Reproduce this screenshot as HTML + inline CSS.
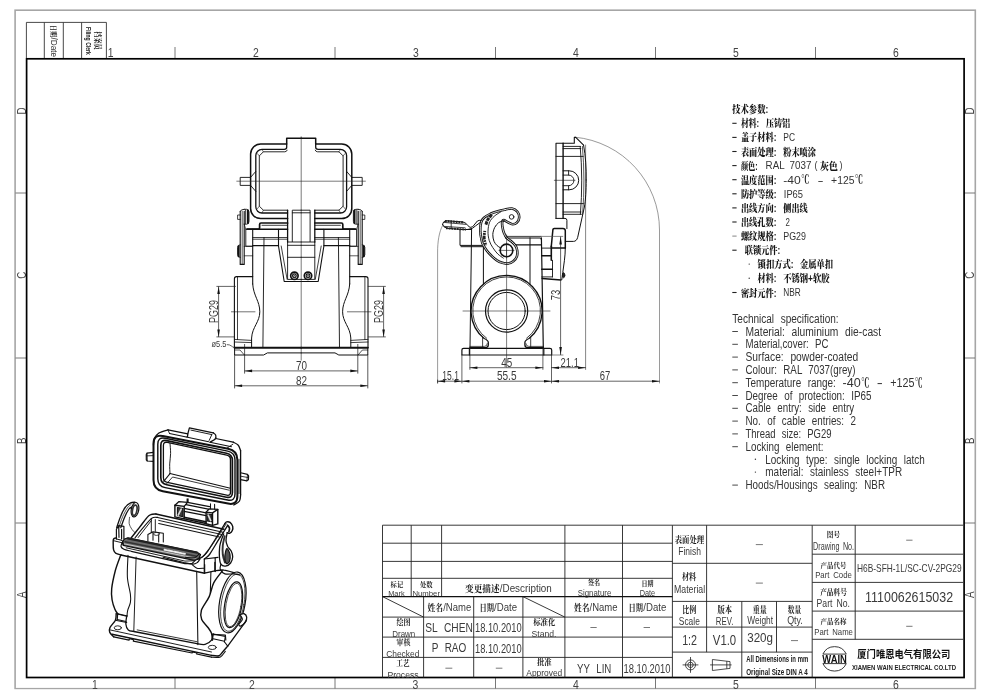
<!DOCTYPE html>
<html lang="zh"><head><meta charset="utf-8"><title>H6B-SFH-1L/SC-CV-2PG29</title>
<style>
html,body{margin:0;padding:0;background:#fff;}
body{width:990px;height:700px;overflow:hidden;font-family:"Liberation Sans","Noto Sans CJK SC",sans-serif;}
svg{display:block;}
#sheet{width:990px;height:700px;will-change:transform;}
svg text{white-space:pre;}
</style></head><body>
<div id="sheet"><svg width="990" height="700" viewBox="0 0 990 700" font-family='"Liberation Sans","Noto Sans CJK SC",sans-serif'>
<rect width="990" height="700" fill="#fff"/>
<!-- frame -->
<g fill="none" stroke="#a6a6a6" stroke-width="1.6">
<rect x="15.1" y="10.2" width="960.2" height="678.5"/>
</g>
<g stroke="#555" stroke-width="0.8">
<line x1="175" y1="47" x2="175" y2="58.5"/>
<line x1="175" y1="678" x2="175" y2="688.5"/>
<line x1="335" y1="47" x2="335" y2="58.5"/>
<line x1="335" y1="678" x2="335" y2="688.5"/>
<line x1="495.5" y1="47" x2="495.5" y2="58.5"/>
<line x1="495.5" y1="678" x2="495.5" y2="688.5"/>
<line x1="655.5" y1="47" x2="655.5" y2="58.5"/>
<line x1="655.5" y1="678" x2="655.5" y2="688.5"/>
<line x1="815.5" y1="47" x2="815.5" y2="58.5"/>
<line x1="815.5" y1="678" x2="815.5" y2="688.5"/>
<line x1="15.5" y1="193" x2="26.5" y2="193"/>
<line x1="964" y1="193" x2="975" y2="193"/>
<line x1="15.5" y1="358" x2="26.5" y2="358"/>
<line x1="964" y1="358" x2="975" y2="358"/>
<line x1="15.5" y1="523" x2="26.5" y2="523"/>
<line x1="964" y1="523" x2="975" y2="523"/>
</g>
<g font-family='"Liberation Sans", "Noto Sans CJK SC", sans-serif' font-size='13' fill='#444' text-anchor='middle'>
<text x="110.6" y="56.8" transform="translate(110.6 0) scale(0.8 1) translate(-110.6 0)">1</text>
<text x="256" y="56.8" transform="translate(256 0) scale(0.8 1) translate(-256 0)">2</text>
<text x="416" y="56.8" transform="translate(416 0) scale(0.8 1) translate(-416 0)">3</text>
<text x="576" y="56.8" transform="translate(576 0) scale(0.8 1) translate(-576 0)">4</text>
<text x="736" y="56.8" transform="translate(736 0) scale(0.8 1) translate(-736 0)">5</text>
<text x="896" y="56.8" transform="translate(896 0) scale(0.8 1) translate(-896 0)">6</text>
<text x="95" y="688.6" transform="translate(95 0) scale(0.8 1) translate(-95 0)">1</text>
<text x="252" y="688.6" transform="translate(252 0) scale(0.8 1) translate(-252 0)">2</text>
<text x="415.5" y="688.6" transform="translate(415.5 0) scale(0.8 1) translate(-415.5 0)">3</text>
<text x="576" y="688.6" transform="translate(576 0) scale(0.8 1) translate(-576 0)">4</text>
<text x="736" y="688.6" transform="translate(736 0) scale(0.8 1) translate(-736 0)">5</text>
<text x="896" y="688.6" transform="translate(896 0) scale(0.8 1) translate(-896 0)">6</text>
<text x="0" y="0" transform="translate(25.6 111) rotate(-90) scale(0.75 1)">D</text>
<text x="0" y="0" transform="translate(974.3 111) rotate(-90) scale(0.75 1)">D</text>
<text x="0" y="0" transform="translate(25.6 275.3) rotate(-90) scale(0.75 1)">C</text>
<text x="0" y="0" transform="translate(974.3 275.3) rotate(-90) scale(0.75 1)">C</text>
<text x="0" y="0" transform="translate(25.6 440.8) rotate(-90) scale(0.75 1)">B</text>
<text x="0" y="0" transform="translate(974.3 440.8) rotate(-90) scale(0.75 1)">B</text>
<text x="0" y="0" transform="translate(25.6 594.8) rotate(-90) scale(0.75 1)">A</text>
<text x="0" y="0" transform="translate(974.3 594.8) rotate(-90) scale(0.75 1)">A</text>
</g>
<rect x="0" y="689.4" width="990" height="11" fill="#fff"/>
<rect x="26.6" y="58.8" width="937.5" height="618.7" fill="none" stroke="#000" stroke-width="1.7"/>
<g stroke="#333" stroke-width="0.9" fill="none">
<path d="M26.4 58V22.4H106.4V58M44.3 22.4V58M63.3 22.4V58M81.6 22.4V58"/>
</g>
<text font-family='"Liberation Sans", "Noto Serif CJK SC", serif' font-size='7.4' font-weight='bold' fill='#222' transform='translate(50.9 24.8) rotate(90)' textLength='12.6' lengthAdjust='spacingAndGlyphs'>日期</text>
<text font-family='"Liberation Sans", "Noto Sans CJK SC", sans-serif' font-size='8.6' fill='#333' transform='translate(50.7 37.6) rotate(90)' textLength='19.4' lengthAdjust='spacingAndGlyphs'>/Date</text>
<text font-family='"Liberation Sans", "Noto Serif CJK SC", serif' font-size='7.5' font-weight='bold' fill='#222' transform='translate(95.2 31.2) rotate(90)' textLength='18.6' lengthAdjust='spacingAndGlyphs'>档案员</text>
<text font-family='"Liberation Sans", "Noto Sans CJK SC", sans-serif' font-size='7' font-weight='bold' fill='#222' transform='translate(86.3 27.1) rotate(90)' textLength='27.8' lengthAdjust='spacingAndGlyphs'>Filing Clerk</text>
<!-- title -->
<g stroke="#222" stroke-width="0.9" fill="none">
<line x1="382.5" y1="525.2" x2="672.4" y2="525.2"/>
<line x1="382.5" y1="543.2" x2="672.4" y2="543.2"/>
<line x1="382.5" y1="561.4" x2="672.4" y2="561.4"/>
<line x1="382.5" y1="578.3" x2="672.4" y2="578.3"/>
<line x1="382.5" y1="617.1" x2="672.4" y2="617.1"/>
<line x1="382.5" y1="637.1" x2="672.4" y2="637.1"/>
<line x1="382.5" y1="657.4" x2="672.4" y2="657.4"/>
<line x1="382.5" y1="525.2" x2="382.5" y2="677.5"/>
<line x1="411.2" y1="525.2" x2="411.2" y2="596.6"/>
<line x1="441.6" y1="525.2" x2="441.6" y2="596.6"/>
<line x1="564.9" y1="525.2" x2="564.9" y2="677.5"/>
<line x1="622.5" y1="525.2" x2="622.5" y2="677.5"/>
<line x1="672.4" y1="525.2" x2="672.4" y2="677.5"/>
<line x1="423.6" y1="596.6" x2="423.6" y2="677.5"/>
<line x1="473.7" y1="596.6" x2="473.7" y2="677.5"/>
<line x1="522.9" y1="596.6" x2="522.9" y2="677.5"/>
<line x1="382.5" y1="596.6" x2="423.6" y2="617.1"/>
<line x1="522.9" y1="596.6" x2="564.9" y2="617.1"/>
<line x1="672.4" y1="525.2" x2="812.2" y2="525.2"/>
<line x1="672.4" y1="563.3" x2="812.2" y2="563.3"/>
<line x1="672.4" y1="601.4" x2="812.2" y2="601.4"/>
<line x1="672.4" y1="627.1" x2="812.2" y2="627.1"/>
<line x1="672.4" y1="652.1" x2="812.2" y2="652.1"/>
<line x1="706.6" y1="525.2" x2="706.6" y2="652.1"/>
<line x1="741.8" y1="601.4" x2="741.8" y2="677.5"/>
<line x1="776.5" y1="601.4" x2="776.5" y2="652.1"/>
<line x1="812.2" y1="525.2" x2="812.2" y2="677.5"/>
<line x1="812.2" y1="525.2" x2="963.2" y2="525.2"/>
<line x1="812.2" y1="554.2" x2="963.2" y2="554.2"/>
<line x1="812.2" y1="582.4" x2="963.2" y2="582.4"/>
<line x1="812.2" y1="611.1" x2="963.2" y2="611.1"/>
<line x1="812.2" y1="639.3" x2="963.2" y2="639.3"/>
<line x1="855.2" y1="525.2" x2="855.2" y2="639.3"/>
</g>
<line x1="382.5" y1="596.6" x2="672.4" y2="596.6" stroke-width="1.3" stroke="#111"/>
<text x="396.9" y="587" font-size="6.8" text-anchor="middle" textLength="12.6" lengthAdjust="spacingAndGlyphs" font-weight="bold" font-family='"Liberation Sans", "Noto Serif CJK SC", serif' fill="#1a1a1a">标记</text>
<text x="396.4" y="596.2" font-size="8" text-anchor="middle" textLength="16.4" lengthAdjust="spacingAndGlyphs" font-family='"Liberation Sans", "Noto Sans CJK SC", sans-serif' fill="#3a3a3a">Mark</text>
<text x="426.3" y="587" font-size="6.8" text-anchor="middle" textLength="12.6" lengthAdjust="spacingAndGlyphs" font-weight="bold" font-family='"Liberation Sans", "Noto Serif CJK SC", serif' fill="#1a1a1a">处数</text>
<text x="426.2" y="596.2" font-size="8" text-anchor="middle" textLength="27.6" lengthAdjust="spacingAndGlyphs" font-family='"Liberation Sans", "Noto Sans CJK SC", sans-serif' fill="#3a3a3a">Number</text>
<text x="465.1" y="592" font-size="9.6" textLength="34.5" lengthAdjust="spacingAndGlyphs" font-weight="bold" font-family='"Liberation Sans", "Noto Serif CJK SC", serif' fill="#1a1a1a">变更描述</text>
<text x="499.8" y="592.4" font-size="11.2" textLength="52" lengthAdjust="spacingAndGlyphs" font-family='"Liberation Sans", "Noto Sans CJK SC", sans-serif' fill="#3a3a3a">/Description</text>
<text x="594" y="585.3" font-size="6.8" text-anchor="middle" textLength="12.2" lengthAdjust="spacingAndGlyphs" font-weight="bold" font-family='"Liberation Sans", "Noto Serif CJK SC", serif' fill="#1a1a1a">签名</text>
<text x="594.5" y="595.6" font-size="8.6" text-anchor="middle" textLength="33.5" lengthAdjust="spacingAndGlyphs" font-family='"Liberation Sans", "Noto Sans CJK SC", sans-serif' fill="#3a3a3a">Signature</text>
<text x="647.4" y="585.5" font-size="6.8" text-anchor="middle" textLength="12" lengthAdjust="spacingAndGlyphs" font-weight="bold" font-family='"Liberation Sans", "Noto Serif CJK SC", serif' fill="#1a1a1a">日期</text>
<text x="647.4" y="596.4" font-size="8.6" text-anchor="middle" textLength="15.5" lengthAdjust="spacingAndGlyphs" font-family='"Liberation Sans", "Noto Sans CJK SC", sans-serif' fill="#3a3a3a">Date</text>
<text x="427.6" y="610.8" font-size="8.6" textLength="15.5" lengthAdjust="spacingAndGlyphs" font-weight="bold" font-family='"Liberation Sans", "Noto Serif CJK SC", serif' fill="#1a1a1a">姓名</text>
<text x="443.2" y="610.6" font-size="10.6" textLength="28" lengthAdjust="spacingAndGlyphs" font-family='"Liberation Sans", "Noto Sans CJK SC", sans-serif' fill="#3a3a3a">/Name</text>
<text x="573.9" y="610.8" font-size="8.6" textLength="15.5" lengthAdjust="spacingAndGlyphs" font-weight="bold" font-family='"Liberation Sans", "Noto Serif CJK SC", serif' fill="#1a1a1a">姓名</text>
<text x="589.5" y="610.6" font-size="10.6" textLength="28" lengthAdjust="spacingAndGlyphs" font-family='"Liberation Sans", "Noto Sans CJK SC", sans-serif' fill="#3a3a3a">/Name</text>
<text x="479.4" y="610.8" font-size="8.6" textLength="14.5" lengthAdjust="spacingAndGlyphs" font-weight="bold" font-family='"Liberation Sans", "Noto Serif CJK SC", serif' fill="#1a1a1a">日期</text>
<text x="494.1" y="610.6" font-size="10.6" textLength="23" lengthAdjust="spacingAndGlyphs" font-family='"Liberation Sans", "Noto Sans CJK SC", sans-serif' fill="#3a3a3a">/Date</text>
<text x="628.6" y="610.8" font-size="8.6" textLength="14.5" lengthAdjust="spacingAndGlyphs" font-weight="bold" font-family='"Liberation Sans", "Noto Serif CJK SC", serif' fill="#1a1a1a">日期</text>
<text x="643.3" y="610.6" font-size="10.6" textLength="23" lengthAdjust="spacingAndGlyphs" font-family='"Liberation Sans", "Noto Sans CJK SC", sans-serif' fill="#3a3a3a">/Date</text>
<text x="403.4" y="625.4" font-size="7.6" text-anchor="middle" textLength="14" lengthAdjust="spacingAndGlyphs" font-weight="bold" font-family='"Liberation Sans", "Noto Serif CJK SC", serif' fill="#1a1a1a">绘图</text>
<text x="403.8" y="636.8" font-size="9.2" text-anchor="middle" textLength="23" lengthAdjust="spacingAndGlyphs" font-family='"Liberation Sans", "Noto Sans CJK SC", sans-serif' fill="#3a3a3a">Drawn</text>
<text x="403.4" y="645.2" font-size="7.6" text-anchor="middle" textLength="14" lengthAdjust="spacingAndGlyphs" font-weight="bold" font-family='"Liberation Sans", "Noto Serif CJK SC", serif' fill="#1a1a1a">审核</text>
<text x="402.8" y="656.8" font-size="9.2" text-anchor="middle" textLength="33.2" lengthAdjust="spacingAndGlyphs" font-family='"Liberation Sans", "Noto Sans CJK SC", sans-serif' fill="#3a3a3a">Checked</text>
<text x="403" y="665.8" font-size="7.6" text-anchor="middle" textLength="13.4" lengthAdjust="spacingAndGlyphs" font-weight="bold" font-family='"Liberation Sans", "Noto Serif CJK SC", serif' fill="#1a1a1a">工艺</text>
<text x="403" y="677.6" font-size="9.2" text-anchor="middle" textLength="31.2" lengthAdjust="spacingAndGlyphs" font-family='"Liberation Sans", "Noto Sans CJK SC", sans-serif' fill="#3a3a3a">Process</text>
<text x="449" y="632.3" font-size="13.4" text-anchor="middle" textLength="47.6" lengthAdjust="spacingAndGlyphs" font-family='"Liberation Sans", "Noto Sans CJK SC", sans-serif' fill="#3a3a3a" word-spacing="5">SL CHEN</text>
<text x="498.3" y="632" font-size="12.8" text-anchor="middle" textLength="46.6" lengthAdjust="spacingAndGlyphs" font-family='"Liberation Sans", "Noto Sans CJK SC", sans-serif' fill="#3a3a3a">18.10.2010</text>
<text x="449" y="652" font-size="13.4" text-anchor="middle" textLength="34.6" lengthAdjust="spacingAndGlyphs" font-family='"Liberation Sans", "Noto Sans CJK SC", sans-serif' fill="#3a3a3a" word-spacing="5">P RAO</text>
<text x="498.3" y="652.6" font-size="12.8" text-anchor="middle" textLength="46.6" lengthAdjust="spacingAndGlyphs" font-family='"Liberation Sans", "Noto Sans CJK SC", sans-serif' fill="#3a3a3a">18.10.2010</text>
<line x1="445.4" y1="668.2" x2="452.3" y2="668.2" stroke-width="0.8" stroke="#555"/>
<line x1="495.8" y1="668.2" x2="502.4" y2="668.2" stroke-width="0.8" stroke="#555"/>
<text x="544.3" y="625.4" font-size="7.6" text-anchor="middle" textLength="22.3" lengthAdjust="spacingAndGlyphs" font-weight="bold" font-family='"Liberation Sans", "Noto Serif CJK SC", serif' fill="#1a1a1a">标准化</text>
<text x="544" y="636.8" font-size="9.2" text-anchor="middle" textLength="24.9" lengthAdjust="spacingAndGlyphs" font-family='"Liberation Sans", "Noto Sans CJK SC", sans-serif' fill="#3a3a3a">Stand.</text>
<line x1="590.4" y1="627.5" x2="596.7" y2="627.5" stroke-width="0.8" stroke="#555"/>
<line x1="643.6" y1="627.5" x2="650" y2="627.5" stroke-width="0.8" stroke="#555"/>
<text x="544.3" y="665" font-size="7.6" text-anchor="middle" textLength="14.7" lengthAdjust="spacingAndGlyphs" font-weight="bold" font-family='"Liberation Sans", "Noto Serif CJK SC", serif' fill="#1a1a1a">批准</text>
<text x="544.3" y="676.4" font-size="9.2" text-anchor="middle" textLength="36" lengthAdjust="spacingAndGlyphs" font-family='"Liberation Sans", "Noto Sans CJK SC", sans-serif' fill="#3a3a3a">Approved</text>
<text x="594.2" y="672.8" font-size="13" text-anchor="middle" textLength="34.3" lengthAdjust="spacingAndGlyphs" font-family='"Liberation Sans", "Noto Sans CJK SC", sans-serif' fill="#3a3a3a" word-spacing="5">YY LIN</text>
<text x="647" y="672.6" font-size="12.8" text-anchor="middle" textLength="47.2" lengthAdjust="spacingAndGlyphs" font-family='"Liberation Sans", "Noto Sans CJK SC", sans-serif' fill="#3a3a3a">18.10.2010</text>
<text x="689.4" y="542.8" font-size="8.6" text-anchor="middle" textLength="29.4" lengthAdjust="spacingAndGlyphs" font-weight="bold" font-family='"Liberation Sans", "Noto Serif CJK SC", serif' fill="#1a1a1a">表面处理</text>
<text x="689.6" y="554.6" font-size="10.6" text-anchor="middle" textLength="22.7" lengthAdjust="spacingAndGlyphs" font-family='"Liberation Sans", "Noto Sans CJK SC", sans-serif' fill="#3a3a3a">Finish</text>
<line x1="755.8" y1="544.6" x2="762.9" y2="544.6" stroke-width="0.8" stroke="#555"/>
<text x="689.1" y="580.4" font-size="8.6" text-anchor="middle" textLength="14.4" lengthAdjust="spacingAndGlyphs" font-weight="bold" font-family='"Liberation Sans", "Noto Serif CJK SC", serif' fill="#1a1a1a">材料</text>
<text x="689.6" y="593.2" font-size="10.6" text-anchor="middle" textLength="31.1" lengthAdjust="spacingAndGlyphs" font-family='"Liberation Sans", "Noto Sans CJK SC", sans-serif' fill="#3a3a3a">Material</text>
<line x1="755.8" y1="583.1" x2="762.9" y2="583.1" stroke-width="0.8" stroke="#555"/>
<text x="689.2" y="612.6" font-size="8.6" text-anchor="middle" textLength="14.1" lengthAdjust="spacingAndGlyphs" font-weight="bold" font-family='"Liberation Sans", "Noto Serif CJK SC", serif' fill="#1a1a1a">比例</text>
<text x="689.3" y="624.8" font-size="10" text-anchor="middle" textLength="21" lengthAdjust="spacingAndGlyphs" font-family='"Liberation Sans", "Noto Sans CJK SC", sans-serif' fill="#3a3a3a">Scale</text>
<text x="724.7" y="612.6" font-size="8.6" text-anchor="middle" textLength="14.6" lengthAdjust="spacingAndGlyphs" font-weight="bold" font-family='"Liberation Sans", "Noto Serif CJK SC", serif' fill="#1a1a1a">版本</text>
<text x="724.6" y="624.8" font-size="10" text-anchor="middle" textLength="17.5" lengthAdjust="spacingAndGlyphs" font-family='"Liberation Sans", "Noto Sans CJK SC", sans-serif' fill="#3a3a3a">REV.</text>
<text x="759.7" y="612.6" font-size="8.6" text-anchor="middle" textLength="14.1" lengthAdjust="spacingAndGlyphs" font-weight="bold" font-family='"Liberation Sans", "Noto Serif CJK SC", serif' fill="#1a1a1a">重量</text>
<text x="760.1" y="623.7" font-size="10" text-anchor="middle" textLength="25.8" lengthAdjust="spacingAndGlyphs" font-family='"Liberation Sans", "Noto Sans CJK SC", sans-serif' fill="#3a3a3a">Weight</text>
<text x="794.5" y="612.6" font-size="8.6" text-anchor="middle" textLength="13.3" lengthAdjust="spacingAndGlyphs" font-weight="bold" font-family='"Liberation Sans", "Noto Serif CJK SC", serif' fill="#1a1a1a">数量</text>
<text x="795" y="623.7" font-size="10" text-anchor="middle" textLength="15.7" lengthAdjust="spacingAndGlyphs" font-family='"Liberation Sans", "Noto Sans CJK SC", sans-serif' fill="#3a3a3a">Qty.</text>
<text x="689.6" y="644.9" font-size="14" text-anchor="middle" textLength="14.9" lengthAdjust="spacingAndGlyphs" font-family='"Liberation Sans", "Noto Sans CJK SC", sans-serif' fill="#3a3a3a">1:2</text>
<text x="724.5" y="644.9" font-size="14" text-anchor="middle" textLength="23.4" lengthAdjust="spacingAndGlyphs" font-family='"Liberation Sans", "Noto Sans CJK SC", sans-serif' fill="#3a3a3a">V1.0</text>
<text x="760.1" y="642.1" font-size="13.2" text-anchor="middle" textLength="25.8" lengthAdjust="spacingAndGlyphs" font-family='"Liberation Sans", "Noto Sans CJK SC", sans-serif' fill="#3a3a3a">320g</text>
<line x1="791" y1="640.6" x2="798" y2="640.6" stroke-width="0.8" stroke="#555"/>
<g stroke="#222" stroke-width="0.8" fill="none">
<circle cx="690.5" cy="664.9" r="5"/><circle cx="690.5" cy="664.9" r="2.7"/>
<path d="M682.6 664.9H698.4M690.5 657V672.8"/>
<path d="M712.4 659.5L730 661.6V668.4L712.4 670.5ZM710.1 664.9H731.6M726.8 661.2V668.7"/>
</g>
<text x="746.2" y="662.3" font-size="9.8" textLength="62" lengthAdjust="spacingAndGlyphs" font-weight="bold" font-family='"Liberation Sans", "Noto Sans CJK SC", sans-serif' fill="#222">All Dimensions in mm</text>
<text x="746.2" y="674.5" font-size="9.8" textLength="61.6" lengthAdjust="spacingAndGlyphs" font-weight="bold" font-family='"Liberation Sans", "Noto Sans CJK SC", sans-serif' fill="#222">Original Size DIN A 4</text>
<text x="833.5" y="536.6" font-size="7.4" text-anchor="middle" textLength="13.3" lengthAdjust="spacingAndGlyphs" font-weight="bold" font-family='"Liberation Sans", "Noto Serif CJK SC", serif' fill="#1a1a1a">图号</text>
<text x="833.6" y="549.7" font-size="10.2" text-anchor="middle" textLength="41" lengthAdjust="spacingAndGlyphs" font-family='"Liberation Sans", "Noto Sans CJK SC", sans-serif' fill="#3a3a3a" word-spacing="2">Drawing No.</text>
<line x1="906.2" y1="540.2" x2="912.5" y2="540.2" stroke-width="0.8" stroke="#555"/>
<text x="833.5" y="567.8" font-size="7.4" text-anchor="middle" textLength="25.9" lengthAdjust="spacingAndGlyphs" font-weight="bold" font-family='"Liberation Sans", "Noto Serif CJK SC", serif' fill="#1a1a1a">产品代号</text>
<text x="833.5" y="577.8" font-size="9.6" text-anchor="middle" textLength="36.7" lengthAdjust="spacingAndGlyphs" font-family='"Liberation Sans", "Noto Sans CJK SC", sans-serif' fill="#3a3a3a" word-spacing="2">Part Code</text>
<text x="909.3" y="571.7" font-size="10.6" text-anchor="middle" textLength="104.5" lengthAdjust="spacingAndGlyphs" font-family='"Liberation Sans", "Noto Sans CJK SC", sans-serif' fill="#3a3a3a">H6B-SFH-1L/SC-CV-2PG29</text>
<text x="833.5" y="595.4" font-size="7.6" text-anchor="middle" textLength="26.6" lengthAdjust="spacingAndGlyphs" font-weight="bold" font-family='"Liberation Sans", "Noto Serif CJK SC", serif' fill="#1a1a1a">产品料号</text>
<text x="833.3" y="606.9" font-size="10.2" text-anchor="middle" textLength="33.4" lengthAdjust="spacingAndGlyphs" font-family='"Liberation Sans", "Noto Sans CJK SC", sans-serif' fill="#3a3a3a" word-spacing="2">Part No.</text>
<text x="909.1" y="602" font-size="14.8" text-anchor="middle" textLength="88" lengthAdjust="spacingAndGlyphs" font-family='"Liberation Sans", "Noto Sans CJK SC", sans-serif' fill="#3a3a3a">1110062615032</text>
<text x="833.5" y="624.2" font-size="7.4" text-anchor="middle" textLength="25.9" lengthAdjust="spacingAndGlyphs" font-weight="bold" font-family='"Liberation Sans", "Noto Serif CJK SC", serif' fill="#1a1a1a">产品名称</text>
<text x="833.6" y="635" font-size="9.6" text-anchor="middle" textLength="38.6" lengthAdjust="spacingAndGlyphs" font-family='"Liberation Sans", "Noto Sans CJK SC", sans-serif' fill="#3a3a3a" word-spacing="2">Part Name</text>
<line x1="906.2" y1="626.3" x2="912.5" y2="626.3" stroke-width="0.8" stroke="#555"/>
<g stroke="#222" stroke-width="0.9" fill="none">
<path d="M822.9 654.1A12.9 12.9 0 0 1 846.3 654.1ZM822.9 663.6A12.9 12.9 0 0 0 846.3 663.6Z"/>
</g>
<text x="834.6" y="662.8" font-size="11" text-anchor="middle" textLength="24.6" lengthAdjust="spacingAndGlyphs" font-weight="bold" font-family='"Liberation Sans", "Noto Sans CJK SC", sans-serif' fill="#111">WAIN</text>
<text x="857.3" y="658.2" font-size="10.4" textLength="93" lengthAdjust="spacingAndGlyphs" font-weight="bold" font-family='"Liberation Sans", "Noto Sans CJK SC", sans-serif' fill="#111">厦门唯恩电气有限公司</text>
<text x="852" y="670.2" font-size="7.2" textLength="104" lengthAdjust="spacingAndGlyphs" font-weight="bold" font-family='"Liberation Sans", "Noto Sans CJK SC", sans-serif' fill="#222">XIAMEN WAIN ELECTRICAL CO.LTD</text>
<!-- spec -->
<text x="732.3" y="113.2" font-size="10.6" textLength="35.9" lengthAdjust="spacingAndGlyphs" font-weight="900" font-family='"Liberation Sans", "Noto Serif CJK SC", serif' fill="#161616">技术参数:</text>
<line x1="732.3" y1="123.3" x2="736.6" y2="123.3" stroke-width="1.1" stroke="#222"/>
<text x="740.9" y="127.3" font-size="10.6" textLength="18.2" lengthAdjust="spacingAndGlyphs" font-weight="900" font-family='"Liberation Sans", "Noto Serif CJK SC", serif' fill="#161616">材料:</text>
<text x="765.9" y="127.3" font-size="10.6" textLength="24.3" lengthAdjust="spacingAndGlyphs" font-weight="900" font-family='"Liberation Sans", "Noto Serif CJK SC", serif' fill="#161616">压铸铝</text>
<line x1="732.3" y1="137.4" x2="736.6" y2="137.4" stroke-width="1.1" stroke="#222"/>
<text x="740.9" y="141.4" font-size="10.6" textLength="35.6" lengthAdjust="spacingAndGlyphs" font-weight="900" font-family='"Liberation Sans", "Noto Serif CJK SC", serif' fill="#161616">盖子材料:</text>
<text x="783.3" y="141.2" font-size="11.6" textLength="11.7" lengthAdjust="spacingAndGlyphs" font-family='"Liberation Sans", "Noto Sans CJK SC", sans-serif' fill="#333">PC</text>
<line x1="732.3" y1="151.5" x2="736.6" y2="151.5" stroke-width="1.1" stroke="#222"/>
<text x="740.9" y="155.5" font-size="10.6" textLength="35.6" lengthAdjust="spacingAndGlyphs" font-weight="900" font-family='"Liberation Sans", "Noto Serif CJK SC", serif' fill="#161616">表面处理:</text>
<text x="783.3" y="155.5" font-size="10.6" textLength="32.6" lengthAdjust="spacingAndGlyphs" font-weight="900" font-family='"Liberation Sans", "Noto Serif CJK SC", serif' fill="#161616">粉末喷涂</text>
<line x1="732.3" y1="165.6" x2="736.6" y2="165.6" stroke-width="1.1" stroke="#222"/>
<text x="740.9" y="169.6" font-size="10.6" textLength="16.7" lengthAdjust="spacingAndGlyphs" font-weight="900" font-family='"Liberation Sans", "Noto Serif CJK SC", serif' fill="#161616">颜色:</text>
<text x="765.6" y="169.4" font-size="11.6" textLength="45.8" lengthAdjust="spacingAndGlyphs" font-family='"Liberation Sans", "Noto Sans CJK SC", sans-serif' fill="#333" word-spacing="3">RAL 7037</text>
<text x="814.4" y="169.4" font-size="11.6" textLength="3" lengthAdjust="spacingAndGlyphs" font-family='"Liberation Sans", "Noto Sans CJK SC", sans-serif' fill="#333">(</text>
<text x="819.7" y="169.6" font-size="10.6" textLength="18.2" lengthAdjust="spacingAndGlyphs" font-weight="900" font-family='"Liberation Sans", "Noto Serif CJK SC", serif' fill="#161616">灰色</text>
<text x="839.4" y="169.4" font-size="11.6" textLength="3" lengthAdjust="spacingAndGlyphs" font-family='"Liberation Sans", "Noto Sans CJK SC", sans-serif' fill="#333">)</text>
<line x1="732.3" y1="179.7" x2="736.6" y2="179.7" stroke-width="1.1" stroke="#222"/>
<text x="740.9" y="183.7" font-size="10.6" textLength="35.6" lengthAdjust="spacingAndGlyphs" font-weight="900" font-family='"Liberation Sans", "Noto Serif CJK SC", serif' fill="#161616">温度范围:</text>
<text x="783.3" y="183.5" font-size="11.6" textLength="17.5" lengthAdjust="spacingAndGlyphs" font-family='"Liberation Sans", "Noto Sans CJK SC", sans-serif' fill="#333">-40</text>
<text x="801.3" y="183.5" font-size="12.4" textLength="8" lengthAdjust="spacingAndGlyphs" font-weight="bold" font-family='"Liberation Sans", "Noto Serif CJK SC", serif' fill="#161616">℃</text>
<text x="817.4" y="183.5" font-size="11.6" textLength="6.1" lengthAdjust="spacingAndGlyphs" font-family='"Liberation Sans", "Noto Sans CJK SC", sans-serif' fill="#333">-</text>
<text x="831.1" y="183.5" font-size="11.6" textLength="23.4" lengthAdjust="spacingAndGlyphs" font-family='"Liberation Sans", "Noto Sans CJK SC", sans-serif' fill="#333">+125</text>
<text x="855.1" y="183.5" font-size="12.4" textLength="8" lengthAdjust="spacingAndGlyphs" font-weight="bold" font-family='"Liberation Sans", "Noto Serif CJK SC", serif' fill="#161616">℃</text>
<line x1="732.3" y1="193.8" x2="736.6" y2="193.8" stroke-width="1.1" stroke="#222"/>
<text x="740.9" y="197.8" font-size="10.6" textLength="35.6" lengthAdjust="spacingAndGlyphs" font-weight="900" font-family='"Liberation Sans", "Noto Serif CJK SC", serif' fill="#161616">防护等级:</text>
<text x="783.8" y="197.6" font-size="11.6" textLength="19.2" lengthAdjust="spacingAndGlyphs" font-family='"Liberation Sans", "Noto Sans CJK SC", sans-serif' fill="#333">IP65</text>
<line x1="732.3" y1="207.9" x2="736.6" y2="207.9" stroke-width="1.1" stroke="#222"/>
<text x="740.9" y="211.9" font-size="10.6" textLength="35.6" lengthAdjust="spacingAndGlyphs" font-weight="900" font-family='"Liberation Sans", "Noto Serif CJK SC", serif' fill="#161616">出线方向:</text>
<text x="783.3" y="211.9" font-size="10.6" textLength="24.3" lengthAdjust="spacingAndGlyphs" font-weight="900" font-family='"Liberation Sans", "Noto Serif CJK SC", serif' fill="#161616">侧出线</text>
<line x1="732.3" y1="222" x2="736.6" y2="222" stroke-width="1.1" stroke="#222"/>
<text x="740.9" y="226" font-size="10.6" textLength="35.6" lengthAdjust="spacingAndGlyphs" font-weight="900" font-family='"Liberation Sans", "Noto Serif CJK SC", serif' fill="#161616">出线孔数:</text>
<text x="785.6" y="225.8" font-size="11.6" textLength="4.4" lengthAdjust="spacingAndGlyphs" font-family='"Liberation Sans", "Noto Sans CJK SC", sans-serif' fill="#333">2</text>
<line x1="732.3" y1="236.1" x2="736.6" y2="236.1" stroke-width="0.8" stroke="#666"/>
<text x="740.9" y="240.1" font-size="10.6" textLength="35.6" lengthAdjust="spacingAndGlyphs" font-weight="900" font-family='"Liberation Sans", "Noto Serif CJK SC", serif' fill="#161616">螺纹规格:</text>
<text x="783.3" y="239.9" font-size="11.6" textLength="22.7" lengthAdjust="spacingAndGlyphs" font-family='"Liberation Sans", "Noto Sans CJK SC", sans-serif' fill="#333">PG29</text>
<line x1="732.3" y1="250.2" x2="736.6" y2="250.2" stroke-width="1.1" stroke="#222"/>
<text x="744.7" y="254.2" font-size="10.6" textLength="35.6" lengthAdjust="spacingAndGlyphs" font-weight="900" font-family='"Liberation Sans", "Noto Serif CJK SC", serif' fill="#161616">联锁元件:</text>
<text x="757.6" y="268.3" font-size="10.6" textLength="35.9" lengthAdjust="spacingAndGlyphs" font-weight="900" font-family='"Liberation Sans", "Noto Serif CJK SC", serif' fill="#161616">锁扣方式:</text>
<text x="800" y="268.3" font-size="10.6" textLength="32.9" lengthAdjust="spacingAndGlyphs" font-weight="900" font-family='"Liberation Sans", "Noto Serif CJK SC", serif' fill="#161616">金属单扣</text>
<text x="757.6" y="282.4" font-size="10.6" textLength="18.9" lengthAdjust="spacingAndGlyphs" font-weight="900" font-family='"Liberation Sans", "Noto Serif CJK SC", serif' fill="#161616">材料:</text>
<text x="783.3" y="282.4" font-size="10.6" textLength="46.2" lengthAdjust="spacingAndGlyphs" font-weight="900" font-family='"Liberation Sans", "Noto Serif CJK SC", serif' fill="#161616">不锈钢+软胶</text>
<circle cx="749.2" cy="264.1" r="0.7" fill="#333"/>
<circle cx="749.2" cy="278.2" r="0.7" fill="#333"/>
<line x1="732.3" y1="292.5" x2="736.6" y2="292.5" stroke-width="1.1" stroke="#222"/>
<text x="740.9" y="296.5" font-size="10.6" textLength="35.6" lengthAdjust="spacingAndGlyphs" font-weight="900" font-family='"Liberation Sans", "Noto Serif CJK SC", serif' fill="#161616">密封元件:</text>
<text x="783.3" y="296.3" font-size="11.6" textLength="17.5" lengthAdjust="spacingAndGlyphs" font-family='"Liberation Sans", "Noto Sans CJK SC", sans-serif' fill="#333">NBR</text>
<g font-family='"Liberation Sans", "Noto Serif CJK SC", serif' font-size='12' fill='#333' word-spacing='4.5'>
<text x="732.3" y="322.7" textLength="106.3" lengthAdjust="spacingAndGlyphs">Technical specification:</text>
<text x="745.5" y="335.5" textLength="135.6" lengthAdjust="spacingAndGlyphs">Material: aluminium die-cast</text>
<line x1="732.3" y1="331.5" x2="737.9" y2="331.5" stroke-width="0.9" stroke="#333"/>
<text x="745.5" y="348.3" textLength="83" lengthAdjust="spacingAndGlyphs">Material,cover: PC</text>
<line x1="732.3" y1="344.3" x2="737.9" y2="344.3" stroke-width="0.9" stroke="#333"/>
<text x="745.5" y="361.1" textLength="112.7" lengthAdjust="spacingAndGlyphs">Surface: powder-coated</text>
<line x1="732.3" y1="357.1" x2="737.9" y2="357.1" stroke-width="0.9" stroke="#333"/>
<text x="745.5" y="373.9" textLength="110" lengthAdjust="spacingAndGlyphs">Colour: RAL 7037(grey)</text>
<line x1="732.3" y1="369.9" x2="737.9" y2="369.9" stroke-width="0.9" stroke="#333"/>
<text x="745.5" y="386.7" textLength="90.3" lengthAdjust="spacingAndGlyphs">Temperature range:</text>
<line x1="732.3" y1="382.7" x2="737.9" y2="382.7" stroke-width="0.9" stroke="#333"/>
<text x="745.5" y="399.5" textLength="126" lengthAdjust="spacingAndGlyphs">Degree of protection: IP65</text>
<line x1="732.3" y1="395.5" x2="737.9" y2="395.5" stroke-width="0.9" stroke="#333"/>
<text x="745.5" y="412.3" textLength="108.6" lengthAdjust="spacingAndGlyphs">Cable entry: side entry</text>
<line x1="732.3" y1="408.3" x2="737.9" y2="408.3" stroke-width="0.9" stroke="#333"/>
<text x="745.5" y="425.1" textLength="110.4" lengthAdjust="spacingAndGlyphs">No. of cable entries: 2</text>
<line x1="732.3" y1="421.1" x2="737.9" y2="421.1" stroke-width="0.9" stroke="#333"/>
<text x="745.5" y="437.9" textLength="86" lengthAdjust="spacingAndGlyphs">Thread size: PG29</text>
<line x1="732.3" y1="433.9" x2="737.9" y2="433.9" stroke-width="0.9" stroke="#333"/>
<text x="745.5" y="450.7" textLength="78" lengthAdjust="spacingAndGlyphs">Locking element:</text>
<line x1="732.3" y1="446.7" x2="737.9" y2="446.7" stroke-width="0.9" stroke="#333"/>
<text x="765.3" y="463.5" textLength="159.4" lengthAdjust="spacingAndGlyphs">Locking type: single locking latch</text>
<circle cx="755.4" cy="459.3" r="0.7" fill="#333"/>
<text x="765.3" y="476.3" textLength="136.8" lengthAdjust="spacingAndGlyphs">material: stainless steel+TPR</text>
<circle cx="755.4" cy="472.1" r="0.7" fill="#333"/>
<text x="745.5" y="489.1" textLength="139.5" lengthAdjust="spacingAndGlyphs">Hoods/Housings sealing: NBR</text>
<line x1="732.3" y1="485.1" x2="737.9" y2="485.1" stroke-width="0.9" stroke="#333"/>
</g>
<text x="842.6" y="386.7" font-size="12" textLength="18.2" lengthAdjust="spacingAndGlyphs" font-family='"Liberation Sans", "Noto Sans CJK SC", sans-serif' fill="#333">-40</text>
<text x="861.3" y="386.7" font-size="12.6" textLength="8" lengthAdjust="spacingAndGlyphs" font-weight="bold" font-family='"Liberation Sans", "Noto Serif CJK SC", serif' fill="#161616">℃</text>
<text x="876.7" y="386.7" font-size="12" textLength="6" lengthAdjust="spacingAndGlyphs" font-family='"Liberation Sans", "Noto Sans CJK SC", sans-serif' fill="#333">-</text>
<text x="890.3" y="386.7" font-size="12" textLength="24.2" lengthAdjust="spacingAndGlyphs" font-family='"Liberation Sans", "Noto Sans CJK SC", sans-serif' fill="#333">+125</text>
<text x="915.1" y="386.7" font-size="12.6" textLength="7.6" lengthAdjust="spacingAndGlyphs" font-weight="bold" font-family='"Liberation Sans", "Noto Serif CJK SC", serif' fill="#161616">℃</text>
<!-- front -->
<g id="fh" fill="none" stroke="#111" stroke-width="1" stroke-linejoin="round" stroke-linecap="round">
<path d="M301.2 138.3H286.7V144H260.6A10 10 0 0 0 250.6 154V208.6A10 10 0 0 0 260.6 218.6H287.6" stroke-width="1.5"/>
<path d="M286.7 144V147.3Q286.7 149.4 284.3 149.4H262A6.2 6.2 0 0 0 255.8 155.6V206.8A6.2 6.2 0 0 0 262 213H287.6" stroke-width="1.3"/>
<path d="M287.2 150.2Q286.6 151.8 284.8 151.8H263.4L259.3 155.9V206.2L263.4 210.2H287.6" stroke-width="0.9"/>
<path d="M259.3 155.9L257.4 153.6M263.4 151.8L262 149.5M259.3 206.2L257.5 208.6M263.4 210.2L262 212.8" stroke-width="0.6"/>
<path d="M250.6 177.4H240.2V185.4H250.6M250.6 177.4L255.8 171.4M250.6 185.4L255.8 191.4" stroke-width="0.9"/>
<path d="M301.2 210.2H292.3V241.6M292.3 212.8H301.2" stroke-width="0.9"/>
<path d="M287.6 210.2V242" stroke-width="1.3"/>
<path d="M287.6 223H261Q259.6 223 259.6 224.6V227.4Q259.6 229.2 258 229.2H247" stroke-width="1.7"/>
<path d="M287.6 225.3H262" stroke-width="0.8"/>
<path d="M247 229.2H287.6" stroke-width="1.4"/>
<path d="M252.7 229.2V284" stroke-width="1.1"/>
<path d="M245.8 229.2V246.2H252.7" stroke-width="0.9"/>
<path d="M252.7 237.5H287.6M252.7 239.2H287.6" stroke-width="0.8"/>
<path d="M252.7 245.7H278.5" stroke-width="1.3"/>
<path d="M287.6 242H301.2M287.6 245.3H301.2" stroke-width="0.9"/>
<path d="M264 237.5L262.9 347.5" stroke-width="0.9"/>
<path d="M278.5 229.2V246L284.2 281.5H301.2" stroke-width="1.1"/>
<path d="M281.2 246L287.1 279.3" stroke-width="0.8"/>
<path d="M287.6 242V279.4H301.2M287.6 257.3H301.2" stroke-width="0.9"/>
<circle cx="294.4" cy="275.8" r="3.7" stroke-width="1.7"/><circle cx="294.4" cy="275.8" r="1.9" stroke-width="1.1"/>
<path d="M293 274.6L295.8 277M293 277L295.8 274.6" stroke-width="0.6"/>
<path d="M240.2 211.3V264.4H244.2V211.3" stroke-width="1.1"/>
<path d="M240.2 211.3Q240.6 209.3 244.2 209.3" stroke-width="0.9"/>
<path d="M244.2 209.3H246.5Q249 209.3 249 212V221.4Q249 224.2 246.5 224.2H244.2" stroke-width="0.9"/>
<path d="M247.9 210.5V223" stroke-width="2"/>
<path d="M245.6 210V223.6" stroke-width="0.8"/>
<path d="M240.2 215H237.6V219.4H240.2" stroke-width="0.8"/>
<path d="M240.2 244.8Q237.6 244.8 237.6 247.4V254.8Q237.6 257.4 240.2 257.4" stroke-width="0.9"/>
<path d="M238.6 246.2V256.2" stroke-width="1.9"/>
<path d="M244.2 224.2L245.8 229.2M244.2 246.4H252.7M244.2 255.8H252.7M242.2 211.3V264.4" stroke-width="0.7"/>
<path d="M252.7 276.6H236.6Q234.4 276.6 234.4 278.8V347.6" stroke-width="1.1"/>
<path d="M237.5 277V339.6" stroke-width="0.8"/>
<path d="M252.7 284C253.4 296 259.8 301 259.8 311.8C259.8 322 252.2 327 251.6 338V347.6" stroke-width="1"/>
<path d="M234.4 339.4L251.6 340.4M234.4 342L251.6 342.6" stroke-width="0.8"/>
<path d="M231.4 311.8H255" stroke-width="0.6"/>
<path d="M234.6 347.8H301.2" stroke-width="1.9"/>
<path d="M234.6 347.8V355H263.6L267.4 352.9H301.2" stroke-width="1"/>
<path d="M234.6 350L240 350L244.2 354.8M244.6 344.4V373.2M234.6 355V388" stroke-width="0.7"/>
</g>
<use href="#fh" transform="translate(602.4 0) scale(-1 1)"/>
<g stroke="#222" stroke-width="0.6" fill="none">
<line x1="301.2" y1="136.4" x2="301.2" y2="360.6"/>
<line x1="236.4" y1="181.2" x2="365.8" y2="181.2"/>
</g>
<g stroke="#222" stroke-width="0.7" fill="none">
<path d="M216.4 286.4H235.8M216.4 336.9H234.4M218.6 286.4V336.9"/>
<path d="M367.8 286.4H385.8M367.8 336.9H385.8M383.6 286.4V336.9"/>
<path d="M244.6 370.9H357.8M234.6 385.8H367.8"/>
<path d="M226.8 344.6C231 344.4 231.5 347 234.6 347.6"/>
</g>
<path d="M218.6 286.4L219.9 293.9L217.3 293.9Z" fill="#111"/>
<path d="M218.6 336.9L217.3 329.4L219.9 329.4Z" fill="#111"/>
<path d="M383.6 286.4L384.9 293.9L382.3 293.9Z" fill="#111"/>
<path d="M383.6 336.9L382.3 329.4L384.9 329.4Z" fill="#111"/>
<path d="M244.6 370.9L252.1 369.6L252.1 372.2Z" fill="#111"/>
<path d="M357.8 370.9L350.3 372.2L350.3 369.6Z" fill="#111"/>
<path d="M234.6 385.8L242.1 384.5L242.1 387.1Z" fill="#111"/>
<path d="M367.8 385.8L360.3 387.1L360.3 384.5Z" fill="#111"/>
<text x="301.6" y="370.2" font-size="12.4" text-anchor="middle" textLength="11" lengthAdjust="spacingAndGlyphs" font-family='"Liberation Sans", "Noto Sans CJK SC", sans-serif' fill="#3a3a3a">70</text>
<text x="301.6" y="385" font-size="12.4" text-anchor="middle" textLength="11" lengthAdjust="spacingAndGlyphs" font-family='"Liberation Sans", "Noto Sans CJK SC", sans-serif' fill="#3a3a3a">82</text>
<text font-family='"Liberation Sans", "Noto Sans CJK SC", sans-serif' font-size='12.4' fill='#3a3a3a' text-anchor='middle' textLength='23' lengthAdjust='spacingAndGlyphs' transform='translate(218.2 311.6) rotate(-90)'>PG29</text>
<text font-family='"Liberation Sans", "Noto Sans CJK SC", sans-serif' font-size='12.4' fill='#3a3a3a' text-anchor='middle' textLength='23' lengthAdjust='spacingAndGlyphs' transform='translate(383.2 311.6) rotate(-90)'>PG29</text>
<text x="211.4" y="347.2" font-size="8.2" textLength="15" lengthAdjust="spacingAndGlyphs" font-family='"Liberation Sans", "Noto Sans CJK SC", sans-serif' fill="#3a3a3a">ø5.5</text>
<!-- side -->
<g fill="none" stroke="#111" stroke-width="1" stroke-linejoin="round" stroke-linecap="round">
<path d="M575.4 137.2A93.4 93.4 0 0 1 659.5 230V383" stroke-width="0.6" stroke="#555"/>
<path d="M442.6 225.4C439 232 437.6 242 437.6 252V383" stroke-width="0.6" stroke="#555"/>
<path d="M585.6 145V369.5" stroke-width="0.6" stroke="#333"/>
<circle cx="506.6" cy="311.0" r="21.1" stroke-width="1.2"/>
<circle cx="506.6" cy="311.0" r="18.6" stroke-width="1.0"/>
<path d="M470 347.6H485Q488.3 347.6 488.3 345V342.6C488.3 340.4 486.8 339.6 484.2 338.5A35.5 35.5 0 1 1 529 338.5C526.4 339.6 524.9 340.4 524.9 342.6V345Q524.9 347.6 528.2 347.6H543.3" stroke-width="1.3"/>
<path d="M486.6 338.2A33.9 33.9 0 1 1 526.6 338.2" stroke-width="0.8"/>
<path d="M470 346.4H484.4Q487.2 346.2 487.3 343.6M543.3 346.4H528.8Q526 346.2 525.9 343.6" stroke-width="0.7"/>
<path d="M482.6 337.4V346.6M530.7 337.4V346.6" stroke-width="0.8"/>
<path d="M461.9 355V350Q461.9 348.3 463.6 348.3H549.9Q551.7 348.3 551.7 350V355Z" stroke-width="1.2"/>
<path d="M469.4 348.3V355M543.8 348.3V355" stroke-width="1.2"/>
<path d="M471.6 229.5L470 347.6" stroke-width="1"/>
<path d="M541.4 237.8L543.3 347.6" stroke-width="1.2"/>
<path d="M483.4 246.7V284.2M530 237.8V284.4" stroke-width="1"/>
<path d="M505 236.4H541" stroke-width="0.8"/>
<path d="M505.6 238H540Q541.4 238 541.4 239.4" stroke-width="1.2"/>
<path d="M515.4 244.8H541.4" stroke-width="1.3"/>
<path d="M471.6 229.5H460V245.4H481.6M461 246.7H483.4" stroke-width="1"/>
<path d="M541.7 248.1H551.3M541.7 276.9H552.5" stroke-width="0.9"/>
<path d="M541.7 255.8H551.3M541.7 269.3H552.4" stroke-width="1.5"/>
<path d="M551.3 246.3L552.9 229.6Q553 228.5 554.2 228.5H563Q565.3 228.5 565.3 230.8V248" stroke-width="1.5"/>
<path d="M551.3 247.9H565.3" stroke-width="1.5"/>
<path d="M551.3 246.3V260.3" stroke-width="1.6"/>
<path d="M552.5 260.3V276.9" stroke-width="0.9"/>
<path d="M565.3 248C565.4 256 563.6 266 562.8 272.4L561.8 279.6" stroke-width="1"/>
<path d="M542.1 278.5L561 280" stroke-width="1.4"/>
<ellipse cx="563.6" cy="275.2" rx="1.2" ry="2.6" fill="#222" stroke-width="0.8"/>
<path d="M556 218.4H565Q566.9 218.4 566.9 220.3V228.6" stroke-width="1"/>
<path d="M565.3 241.4H573.4Q576.6 241.4 577.7 237.3L584.4 207C585.6 200 586.2 190 586.2 180" stroke-width="1"/>
<path d="M556 143.2V218.4M556 143.2H574.3V137.4L575.5 137.2L583.6 145.2" stroke-width="1.1"/>
<path d="M563.1 143.2V218.4" stroke-width="1.4"/>
<path d="M583.6 145.2C585.6 156 586.4 168 586.2 180" stroke-width="1"/>
<path d="M563.1 146.4H580.4M563.1 148.6H580.8M556 156.4H583.2M556 203.6H583.4M563.1 212H581M563.1 214.3H581.4" stroke-width="0.9"/>
<path d="M580.2 146.4C582.2 168 582.2 192 580.4 214.3" stroke-width="0.9"/>
<path d="M582.4 146.4C584.4 168 584.4 192 582.6 214.3" stroke-width="0.7"/>
<path d="M563.1 170.8H569.2A9.5 9.5 0 0 1 569.2 189.8H563.1" stroke-width="1"/>
<path d="M563.1 175.1H568.6A5.3 5.3 0 0 1 568.6 185.7H563.1M568.6 170.8V175.1M568.6 185.7V189.8" stroke-width="0.9"/>
<path d="M554.3 180.3H575" stroke-width="0.6"/>
<path d="M505.1 209.6C502.7 210.1 500.2 210.6 497.8 211.3C495.4 212.0 492.8 212.8 490.5 213.8C488.3 214.9 485.7 216.2 484.2 217.6C482.6 219.0 481.8 219.9 481.2 222.2C480.5 224.5 480.2 228.4 480.3 231.3C480.3 234.2 481.0 237.3 481.5 239.5C481.9 241.6 481.9 242.1 482.8 244.0C483.7 245.9 485.5 248.8 486.9 250.8C488.3 252.8 489.8 254.2 491.5 255.8C493.1 257.4 495.2 259.2 496.9 260.4C498.6 261.5 499.6 262.1 501.5 262.6C503.3 263.2 505.8 263.8 507.8 263.5C509.8 263.3 511.8 262.5 513.3 261.3C514.8 260.1 516.3 258.1 516.9 256.3C517.6 254.5 517.4 252.1 517.2 250.4C517.0 248.6 516.5 247.3 515.5 245.8C514.6 244.3 512.9 242.7 511.5 241.5C510.0 240.2 508.2 239.5 506.9 238.1C505.7 236.7 504.8 235.0 504.0 233.1C503.2 231.2 502.7 228.5 502.4 226.7C502.1 224.9 502.0 223.3 502.2 222.2C502.4 221.1 502.8 220.1 503.7 220.1C504.7 220.1 506.4 221.5 507.8 222.2C509.3 222.9 510.8 224.1 512.4 224.2C513.9 224.3 515.8 223.7 516.9 222.6C518.0 221.5 519.1 219.5 519.2 217.6C519.3 215.8 518.6 213.2 517.4 211.7C516.2 210.2 514.0 208.9 511.9 208.5C509.9 208.2 507.4 209.2 505.1 209.6Z" stroke-width="2.6"/>
<path d="M505.1 209.6C502.7 210.1 500.2 210.6 497.8 211.3C495.4 212.0 492.8 212.8 490.5 213.8C488.3 214.9 485.7 216.2 484.2 217.6C482.6 219.0 481.8 219.9 481.2 222.2C480.5 224.5 480.2 228.4 480.3 231.3C480.3 234.2 481.0 237.3 481.5 239.5C481.9 241.6 481.9 242.1 482.8 244.0C483.7 245.9 485.5 248.8 486.9 250.8C488.3 252.8 489.8 254.2 491.5 255.8C493.1 257.4 495.2 259.2 496.9 260.4C498.6 261.5 499.6 262.1 501.5 262.6C503.3 263.2 505.8 263.8 507.8 263.5C509.8 263.3 511.8 262.5 513.3 261.3C514.8 260.1 516.3 258.1 516.9 256.3C517.6 254.5 517.4 252.1 517.2 250.4C517.0 248.6 516.5 247.3 515.5 245.8C514.6 244.3 512.9 242.7 511.5 241.5C510.0 240.2 508.2 239.5 506.9 238.1C505.7 236.7 504.8 235.0 504.0 233.1C503.2 231.2 502.7 228.5 502.4 226.7C502.1 224.9 502.0 223.3 502.2 222.2C502.4 221.1 502.8 220.1 503.7 220.1C504.7 220.1 506.4 221.5 507.8 222.2C509.3 222.9 510.8 224.1 512.4 224.2C513.9 224.3 515.8 223.7 516.9 222.6C518.0 221.5 519.1 219.5 519.2 217.6C519.3 215.8 518.6 213.2 517.4 211.7C516.2 210.2 514.0 208.9 511.9 208.5C509.9 208.2 507.4 209.2 505.1 209.6Z" stroke-width="0.8" stroke="#fff"/>
<path d="M501.0 211.7C499.9 212.5 496.1 214.5 494.2 216.3C492.3 218.0 490.7 219.7 489.6 222.2C488.6 224.7 488.1 228.2 488.0 231.3C487.9 234.3 488.4 237.6 489.2 240.4C490.0 243.1 491.4 245.4 492.8 247.6C494.3 249.9 496.1 252.3 497.8 254.0C499.6 255.7 502.4 257.4 503.3 258.1" stroke-width="0.9"/>
<path d="M504.2 220.5C503.3 220.9 500.3 221.5 498.7 222.6C497.1 223.8 495.6 225.7 494.6 227.6C493.7 229.6 492.9 232.2 492.8 234.5C492.7 236.7 493.3 239.5 494.0 241.3C494.7 243.1 495.9 244.3 496.9 245.4C497.9 246.4 499.6 247.3 500.1 247.6" stroke-width="1"/>
<path stroke-linecap="butt" stroke-dasharray="3.4 0.7" d="M491.6 214.7C491.0 215.5 489.0 217.6 488.0 219.3C487.0 220.9 486.2 223.8 485.8 224.7" stroke-width="3" stroke="#222"/>
<path stroke-linecap="butt" stroke-dasharray="1.6 0.8 1.6 0.8 4 0.8" d="M484.8 230.8C484.7 232.0 484.0 235.2 484.2 237.6C484.3 240.1 485.5 244.1 485.8 245.4" stroke-width="2.8" stroke="#222"/>
<circle cx="511.6" cy="216.9" r="2.3" stroke-width="0.9"/>
<circle cx="506.5" cy="250.4" r="6.3" stroke-width="1.6"/>
<path d="M499 250.4H514M506.5 243V258" stroke-width="0.6"/>
<path d="M442.6 224.6Q443 220.6 447 220.8L463 222Q466.4 222.8 467.8 225.6Q470 228.6 472.6 226.8L477.4 221Q479 220 481.2 220.4" stroke-width="1"/>
<path d="M442.6 224.6Q443.4 228 448 228.4L461 229.4Q466 229.8 468 229.4Q473 229 475.4 226L480.6 222.2" stroke-width="1"/>
<path d="M444 222.4L466 224.4M444.4 226.4L465 227.8M451.2 221.2V228.6" stroke-width="0.8"/>
<path stroke-linecap="butt" stroke-dasharray="1.8 0.9" d="M445 221L464 222.4" stroke-width="2.2" stroke="#222"/>
<path stroke-linecap="butt" stroke-dasharray="1.8 0.9" d="M446 228.2L466 229.6" stroke-width="2" stroke="#222"/>
<path d="M506.6 235V367" stroke-width="0.6" stroke="#222"/>
<path d="M463 311.0H550" stroke-width="0.6" stroke="#222"/>
<g stroke="#222" stroke-width="0.7">
<path d="M541 236.4H562.8M551.7 355H563" stroke="#555"/>
<path d="M560.6 237V354.6"/>
<path d="M469.9 348V369.4M542.9 348V369.4M461.9 355V383M551.5 355V383M437.6 380V383"/>
<path d="M469.9 367.7H542.9M551.5 367.7H585.6M437.6 381.2H659.5"/>
</g>
<path d="M560.6 236.6L561.9 244.6L559.3 244.6Z" fill="#111" stroke="none"/>
<path d="M560.6 355L559.3 347L561.9 347Z" fill="#111" stroke="none"/>
<path d="M469.9 367.7L477.4 366.4L477.4 369Z" fill="#111" stroke="none"/>
<path d="M542.9 367.7L535.4 369L535.4 366.4Z" fill="#111" stroke="none"/>
<path d="M551.5 367.7L559 366.4L559 369Z" fill="#111" stroke="none"/>
<path d="M585.6 367.7L578.1 369L578.1 366.4Z" fill="#111" stroke="none"/>
<path d="M437.6 381.2L445.1 379.9L445.1 382.5Z" fill="#111" stroke="none"/>
<path d="M461.9 381.2L454.4 382.5L454.4 379.9Z" fill="#111" stroke="none"/>
<path d="M461.9 381.2L469.4 379.9L469.4 382.5Z" fill="#111" stroke="none"/>
<path d="M551.5 381.2L544 382.5L544 379.9Z" fill="#111" stroke="none"/>
<path d="M551.5 381.2L559 379.9L559 382.5Z" fill="#111" stroke="none"/>
<path d="M659.5 381.2L652 382.5L652 379.9Z" fill="#111" stroke="none"/>
</g>
<text x="506.7" y="366.9" font-size="12.2" text-anchor="middle" textLength="11" lengthAdjust="spacingAndGlyphs" font-family='"Liberation Sans", "Noto Sans CJK SC", sans-serif' fill="#3a3a3a">45</text>
<text x="506.7" y="380.4" font-size="12.2" text-anchor="middle" textLength="19.6" lengthAdjust="spacingAndGlyphs" font-family='"Liberation Sans", "Noto Sans CJK SC", sans-serif' fill="#3a3a3a">55.5</text>
<text x="569.7" y="366.9" font-size="12.2" text-anchor="middle" textLength="18.4" lengthAdjust="spacingAndGlyphs" font-family='"Liberation Sans", "Noto Sans CJK SC", sans-serif' fill="#3a3a3a">21.1</text>
<text x="450.6" y="380.4" font-size="12.2" text-anchor="middle" textLength="16.6" lengthAdjust="spacingAndGlyphs" font-family='"Liberation Sans", "Noto Sans CJK SC", sans-serif' fill="#3a3a3a">15.1</text>
<text x="605" y="380.4" font-size="12.2" text-anchor="middle" textLength="10.5" lengthAdjust="spacingAndGlyphs" font-family='"Liberation Sans", "Noto Sans CJK SC", sans-serif' fill="#3a3a3a">67</text>
<text font-family='"Liberation Sans", "Noto Sans CJK SC", sans-serif' font-size='12.2' fill='#3a3a3a' text-anchor='middle' textLength='10.5' lengthAdjust='spacingAndGlyphs' transform='translate(560 295) rotate(-90)'>73</text>
<!-- iso -->
<g fill="none" stroke="#111" stroke-width="1" stroke-linejoin="round" stroke-linecap="round">
<path d="M153.5 445.0C153.6 444.0 153.4 440.7 154.3 438.7C155.2 436.7 156.6 434.5 158.9 433.0C161.2 431.5 166.5 430.3 168.0 429.8" stroke-width="1.3"/>
<path d="M168.0 429.8L187.8 433.9" stroke-width="1.18"/>
<path d="M169.5 433.5L186.3 436.9" stroke-width="1.06"/>
<path d="M168.0 429.8L169.5 433.5" stroke-width="0.94"/>
<path d="M187.5 436.7L187.8 433.9L189.4 427.9L213.2 432.8" stroke-width="1.3"/>
<path d="M213.2 432.8C213.6 433.2 215.4 434.0 215.7 435.1C216.0 436.1 216.2 437.8 215.2 439.0C214.3 440.1 210.9 441.6 210.0 442.2" stroke-width="1.3"/>
<path d="M190.9 430.1L211.8 434.6" stroke-width="0.94"/>
<path d="M186.3 436.9L208.6 441.7" stroke-width="1.06"/>
<path d="M211.8 434.6L209.2 440.4" stroke-width="0.94"/>
<path d="M215.7 438.5L233.2 442.2" stroke-width="1.18"/>
<path d="M210.0 442.2L231.5 446.7" stroke-width="1.06"/>
<path d="M233.2 442.2C234.0 442.6 236.9 443.6 238.1 445.0C239.4 446.4 240.2 449.8 240.6 450.7" stroke-width="1.3"/>
<path d="M240.6 450.7L240.6 494.8" stroke-width="1.3"/>
<path d="M240.6 494.8C240.4 495.8 240.6 499.3 239.5 501.0C238.3 502.8 234.7 504.4 233.8 505.0" stroke-width="1.3"/>
<path d="M226.9 448.2L232.9 444.2" stroke-width="0.94"/>
<path d="M239.0 459.3L239.0 493.6" stroke-width="0.83"/>
<path d="M153.5 443.7Q153.5 434.2 162.8 436.0L228.1 448.8Q237.4 450.6 237.4 460.1L237.4 495.9Q237.4 505.4 228.1 503.6L162.8 491.2Q153.5 489.4 153.5 479.9Z" stroke-width="2.01"/>
<path d="M157.8 444.3Q157.8 436.8 165.1 438.3L227.7 451.1Q235.0 452.6 235.0 460.1L235.0 493.9Q235.0 501.4 227.6 500.0L165.2 487.6Q157.8 486.2 157.8 478.7Z" stroke-width="1.42"/>
<path d="M160.8 445.4Q160.8 439.4 166.7 440.6L226.5 453.2Q232.4 454.4 232.4 460.4L232.4 492.4Q232.4 498.4 226.5 497.2L166.7 484.8Q160.8 483.6 160.8 477.6Z" stroke-width="1.65"/>
<path d="M163.4 445.6Q163.4 441.6 167.3 442.4L226.7 455.2Q230.6 456.0 230.6 460.0L230.6 492.0Q230.6 496.0 226.7 495.2L167.3 482.4Q163.4 481.6 163.4 477.6Z" stroke-width="1.3"/>
<path d="M170.0 443.3C170.1 445.0 170.7 450.2 170.6 453.6C170.6 457.0 169.8 460.5 169.7 463.9C169.6 467.2 169.9 472.0 170.0 473.6" stroke-width="0.94"/>
<path d="M170.0 473.6L230.3 488.2" stroke-width="1.06"/>
<path d="M163.7 481.3L170.0 473.6" stroke-width="1.06"/>
<path d="M166.5 483.9L172.6 477.0L229.2 490.2" stroke-width="0.83"/>
<path d="M230.3 455.9L230.3 493.6" stroke-width="0.83"/>
<path d="M153.5 452.4L147.1 453.1L146.3 454.3L146.3 459.9L147.3 461.0L153.5 461.4" stroke-width="1.18"/>
<path d="M147.1 453.1L147.3 461.0M146.3 455.9L153.5 455.6" stroke-width="0.83"/>
<path d="M240.6 472.8L247.5 474.4L248.6 475.9L248.4 479.7L246.9 480.8L240.6 479.7" stroke-width="1.18"/>
<path d="M247.5 474.4L246.9 480.8M240.6 476.2L248.4 477.6" stroke-width="0.83"/>
<path d="M174.9 505.2L174.9 516.9L184.2 518.9L184.2 506.4Z" stroke-width="1.42"/>
<path d="M174.9 505.2L179.0 501.6L187.5 502.4L184.2 506.4" stroke-width="1.3"/>
<path d="M177.4 507.6L183.0 508.4L183.0 516.7L177.4 515.5Z" stroke-width="1.06" fill="#3c3c3c"/>
<path d="M178.2 515.1L181.2 509.2" stroke-width="1.65" stroke="#ddd"/>
<path d="M187.1 498.7L187.1 502.3M188.1 498.9L188.1 502.5" stroke-width="1.06"/>
<path d="M187.5 502.4L209.5 506.7M186.0 504.6L208.3 509.1" stroke-width="1.18"/>
<path d="M184.2 508.4L206.1 512.9M184.2 511.3L206.1 515.7" stroke-width="1.18"/>
<path d="M184.2 517.3L205.9 521.8M184.2 518.9L206.1 523.5" stroke-width="1.42"/>
<path d="M206.1 512.1L206.1 523.8L212.5 525.4L212.5 512.9Z" stroke-width="1.42"/>
<path d="M206.1 512.1L209.3 508.8L217.8 509.4L212.5 512.9" stroke-width="1.3"/>
<path d="M217.8 509.4L217.8 523.9L212.5 525.4" stroke-width="1.42"/>
<path d="M207.3 513.9L211.7 514.6L211.7 521.8L207.3 521.0Z" stroke-width="1.06" fill="#3c3c3c"/>
<path d="M210.7 520.6L208.2 515.1" stroke-width="1.65" stroke="#ddd"/>
<path d="M210.5 503.7L210.5 508.6M214.6 504.4L214.6 509.1" stroke-width="1.06"/>
<path d="M130.7 538.5C132.2 536.6 136.6 531.0 139.3 527.6C142.0 524.2 144.8 520.0 146.7 517.9C148.6 515.7 149.2 515.3 150.7 514.7C152.3 514.0 155.0 514.1 155.9 514.0" stroke-width="1.42"/>
<path d="M155.9 514.0L223.9 529.3" stroke-width="1.42"/>
<path d="M135.0 537.9C136.3 536.3 140.2 531.2 142.7 528.2C145.3 525.1 148.4 521.4 150.2 519.6C152.0 517.8 152.4 517.8 153.6 517.4C154.8 517.1 156.9 517.4 157.6 517.4" stroke-width="1.06"/>
<path d="M157.6 517.4L222.8 532.2" stroke-width="1.06"/>
<path d="M138.2 537.5L151.3 520.7M158.7 520.4L221.6 534.5" stroke-width="0.94"/>
<path d="M151.3 518.4L151.3 532.7M155.3 519.6L155.3 531.4" stroke-width="0.94"/>
<path d="M158.7 523.6L219.4 537.1" stroke-width="1.06"/>
<path d="M147.9 540.7L147.9 534.5L153.0 531.8L163.3 533.3L163.3 541.9M153.0 531.8L153.0 540.2M158.7 535.0L158.7 541.9" stroke-width="1.06"/>
<ellipse cx="156.5" cy="533.9" rx="2.9" ry="1.5" stroke-width="0.8"/>
<path d="M127.9 537.9L197.1 552.2L200.5 554.5L198.8 559.0L194.2 560.4L123.3 545.3L122.2 542.5L124.4 539.0Z" stroke-width="1.3" fill="#6a6a6a"/>
<path d="M127.9 538.5L197.1 552.7" stroke-width="1.89" stroke="#222"/>
<path d="M125.0 541.7L196.5 556.2" stroke-width="1.42" stroke="#333"/>
<path d="M124.4 543.9L195.3 558.2" stroke-width="0.83" stroke="#ddd"/>
<path stroke-dasharray="2 1.2" d="M164.5 549.7L185.0 553.9" stroke-width="1.89" stroke="#eee"/>
<path d="M122.2 542.5C122.0 543.1 120.7 545.3 121.0 546.5C121.3 547.6 122.2 548.5 123.9 549.3C125.6 550.1 130.1 550.9 131.3 551.3M131.3 551.3L185.0 563.6L191.9 563.6L195.3 560.4" stroke-width="1.18"/>
<path d="M126.2 547.8L185.0 561.1L193.1 560.8" stroke-width="0.94"/>
<path d="M116.4 539.0L116.4 529.3L118.7 525.6L123.9 526.4L123.9 539.0M118.7 525.6L119.0 537.3M121.6 529.3L121.6 539.0" stroke-width="1.18"/>
<path d="M116.7 527.6C117.4 525.7 119.1 519.8 120.6 516.4C122.0 512.9 123.8 509.2 125.5 507.0C127.1 504.7 129.0 503.7 130.6 502.9C132.2 502.1 134.3 502.3 135.0 502.2" stroke-width="1.3"/>
<path d="M120.8 527.6C121.4 525.9 123.2 520.7 124.4 517.7C125.7 514.7 127.4 511.3 128.6 509.5C129.8 507.8 131.1 507.4 131.6 507.0" stroke-width="1.3"/>
<path d="M118.8 527.6C119.4 525.8 121.2 520.0 122.6 516.8C124.1 513.5 125.9 510.1 127.3 508.0C128.7 505.9 130.5 505.0 131.1 504.4" stroke-width="0.71"/>
<ellipse cx="135.0" cy="509.7" rx="3.7" ry="7.3" transform="rotate(10 135.0 509.7)" stroke-width="1.2"/>
<ellipse cx="134.7" cy="510.3" rx="2.2" ry="5.2" transform="rotate(10 134.7 510.3)" stroke-width="1.7" stroke="#333"/>
<path d="M129.6 517.3C129.5 518.3 128.9 521.6 129.2 523.6C129.6 525.6 130.9 527.8 131.9 529.3C132.8 530.8 134.4 532.2 135.0 532.7" stroke-width="0.71"/>
<path d="M116.4 537.9C116.0 538.1 114.1 538.2 113.6 539.0C113.0 539.9 113.2 541.2 113.2 543.0C113.2 544.8 113.1 548.2 113.6 549.9C114.0 551.6 114.6 552.5 115.9 553.3C117.1 554.2 120.2 554.7 121.0 555.0" stroke-width="1.42"/>
<path d="M121.0 555.0L204.6 573.2" stroke-width="1.42"/>
<path d="M116.4 539.0C117.4 539.3 121.0 539.7 122.2 540.7C123.3 541.8 123.1 544.6 123.3 545.3" stroke-width="1.06"/>
<path d="M113.6 540.7L122.2 542.8" stroke-width="0.94"/>
<path d="M197.4 559.0C198.3 558.7 200.9 558.1 202.6 556.7C204.3 555.4 205.5 554.1 207.7 551.0C209.9 548.0 212.9 543.0 215.7 538.5C218.6 533.9 223.4 526.1 224.9 523.6" stroke-width="1.3"/>
<path d="M204.3 559.0C205.2 558.3 207.2 557.5 209.5 554.5C211.7 551.4 215.0 545.6 218.0 540.7C221.1 535.9 226.1 527.9 227.7 525.3" stroke-width="1.3"/>
<path d="M200.9 557.9C201.6 557.3 203.4 556.9 205.4 554.5C207.5 552.0 210.0 548.1 213.5 543.0C216.9 537.9 224.1 527.0 226.3 523.8" stroke-width="0.83"/>
<path d="M224.9 523.6C225.2 523.3 225.7 522.1 226.6 521.9C227.5 521.7 229.0 521.7 230.0 522.4C231.0 523.2 232.3 525.1 232.7 526.4C233.0 527.8 232.9 529.3 232.3 530.4C231.8 531.6 230.3 532.9 229.5 533.3C228.6 533.7 227.6 532.8 227.2 532.7" stroke-width="1.42"/>
<path d="M227.7 525.3C228.0 525.8 229.3 527.1 229.5 528.2C229.7 529.2 229.0 531.0 228.9 531.6" stroke-width="1.65"/>
<path d="M227.2 532.7C227.0 534.1 225.9 538.5 226.0 540.7C226.1 543.0 226.9 544.7 227.7 546.5C228.6 548.2 230.4 549.3 231.2 551.0C232.0 552.7 232.8 554.7 232.7 556.7C232.6 558.8 231.8 561.5 230.6 563.0C229.4 564.6 227.1 565.9 225.5 566.1C223.8 566.3 221.9 565.7 220.9 564.2C219.9 562.6 219.6 559.7 219.4 556.7C219.2 553.8 219.4 549.3 219.7 546.5C220.1 543.6 220.8 541.7 221.5 539.6C222.1 537.5 223.4 534.8 223.7 533.9" stroke-width="1.3"/>
<path d="M224.7 536.2C224.4 537.7 223.1 542.3 222.8 545.3C222.5 548.4 222.5 551.6 222.8 554.5C223.2 557.3 224.5 561.1 224.9 562.5" stroke-width="1.89" stroke="#333"/>
<path d="M227.2 548.7C227.9 549.1 229.7 552.4 230.0 554.5C230.4 556.6 230.0 559.8 229.5 561.3C228.9 562.8 227.4 564.0 226.6 563.6C225.8 563.2 225.1 560.9 224.9 559.0C224.7 557.1 225.1 553.9 225.5 552.2C225.8 550.5 226.4 548.4 227.2 548.7Z" stroke-width="1.18" fill="#555"/>
<path d="M220.9 564.2C220.8 565.0 219.6 567.7 220.3 569.3C221.0 570.9 222.6 573.1 224.9 573.9C227.2 574.7 231.6 573.7 234.0 573.9C236.5 574.1 238.8 574.9 239.8 575.0" stroke-width="1.18"/>
<path d="M163.1 557.3C166.6 558.2 178.8 561.3 183.7 562.5C188.7 563.6 190.6 564.2 192.9 564.2C195.2 564.2 196.3 563.3 197.4 562.5C198.6 561.6 199.5 559.6 200.0 559.0" stroke-width="1.18"/>
<path d="M185.4 557.3C187.0 557.4 192.4 558.1 194.6 557.7C196.8 557.2 197.9 555.0 198.6 554.5" stroke-width="1.06"/>
<path d="M204.3 559.0L218.0 557.3M204.3 559.0L204.3 572.8M215.2 557.7L215.2 571.6" stroke-width="1.18"/>
<path d="M192.3 564.8C193.1 565.3 194.9 567.6 196.9 568.2C198.9 568.8 203.1 568.2 204.3 568.2" stroke-width="1.06"/>
<path d="M120.6 555.4C119.7 557.9 116.9 564.8 115.4 570.3C114.0 575.8 112.2 583.6 111.7 588.6C111.1 593.5 111.6 596.6 112.1 600.0C112.7 603.5 113.9 606.9 114.9 609.2C115.8 611.5 117.2 613.0 117.7 613.7" stroke-width="1.42"/>
<path d="M128.0 555.4C127.9 559.0 127.0 570.7 127.4 577.2C127.8 583.6 129.9 590.1 130.4 594.3C130.9 598.5 130.9 599.6 130.4 602.3C130.0 605.0 128.2 608.0 127.7 610.3C127.1 612.6 127.1 615.1 127.0 616.0" stroke-width="1.06"/>
<path d="M117.7 613.7L127.4 616.0M117.2 619.5L126.1 621.5" stroke-width="1.06"/>
<path d="M117.7 613.7L117.2 619.5" stroke-width="1.18"/>
<path d="M136.1 557.1L133.8 631.1" stroke-width="0.94"/>
<path d="M196.7 571.4L197.9 644.6" stroke-width="1.06"/>
<path d="M204.6 573.2L214.9 570.9L214.9 562.3M204.6 573.2L204.6 564.6" stroke-width="1.3"/>
<path d="M210.9 572.0L210.3 593.2" stroke-width="1.06"/>
<path d="M222.3 570.9C220.9 572.9 215.9 578.6 213.7 582.9C211.6 587.2 211.2 592.0 209.2 596.6C207.1 601.2 202.6 606.5 201.4 610.3C200.2 614.1 200.6 616.6 201.7 619.5C202.8 622.3 206.4 625.2 208.0 627.5C209.6 629.8 210.7 631.1 211.5 633.2C212.2 635.3 212.2 638.9 212.4 640.0" stroke-width="1.42"/>
<path d="M214.9 570.9C216.4 570.7 220.8 569.7 224.0 570.1C227.3 570.4 232.6 572.3 234.3 572.8" stroke-width="1.3"/>
<ellipse cx="232.4" cy="602.4" rx="12.8" ry="30.8" transform="rotate(10 232.4 602.4)" stroke-width="1.18"/>
<ellipse cx="232.8" cy="602.7" rx="11.3" ry="29.0" transform="rotate(10 232.8 602.7)" stroke-width="0.71"/>
<ellipse cx="233.3" cy="604.8" rx="8.6" ry="23.2" transform="rotate(10 233.3 604.8)" stroke-width="1.18"/>
<ellipse cx="233.5" cy="605.0" rx="7.5" ry="21.9" transform="rotate(10 233.5 605.0)" stroke-width="0.71"/>
<path d="M240.0 614.7C240.7 614.5 242.9 613.3 244.0 613.7C245.2 614.2 246.5 615.7 246.7 617.2C246.9 618.6 246.2 620.8 245.2 622.3C244.2 623.8 241.7 625.8 240.6 626.1C239.6 626.4 238.6 625.1 238.9 624.0C239.2 622.9 242.1 621.0 242.3 619.5C242.5 617.9 240.4 615.5 240.0 614.7" stroke-width="1.3" fill="#fff"/>
<path d="M212.6 634.3L225.4 635.2L225.8 640.0M212.6 634.3L212.6 640.0" stroke-width="1.18"/>
<path d="M116.2 613.7C116.0 614.8 116.4 617.9 115.4 620.2C114.3 622.5 111.0 625.5 110.0 627.5C109.1 629.5 109.1 630.8 109.7 632.3C110.3 633.9 113.1 636.1 113.7 636.8" stroke-width="1.42"/>
<path d="M116.2 613.7L126.7 616.2M115.4 620.2L126.7 622.6" stroke-width="1.06"/>
<path d="M112.1 634.3L211.5 655.4" stroke-width="1.42"/>
<path d="M113.7 636.8L129.1 640.1L129.4 638.8L133.6 639.8L133.3 641.1L192.1 653.0L192.4 652.0L197.0 653.0L196.6 654.0L211.5 657.2" stroke-width="1.18"/>
<path d="M110.0 629.9L211.5 652.0" stroke-width="0.94"/>
<path d="M126.7 616.2C126.5 617.5 125.6 622.0 125.9 624.2C126.1 626.5 126.9 628.7 128.3 629.9C129.6 631.1 133.0 631.2 133.9 631.5" stroke-width="1.3"/>
<path d="M133.9 631.5L197.0 643.6" stroke-width="1.3"/>
<path d="M137.2 629.9L197.0 641.7" stroke-width="0.83"/>
<path d="M197.0 643.6C198.3 643.8 202.6 645.0 205.1 644.4C207.5 643.9 210.2 641.8 211.5 640.1C212.9 638.3 212.9 635.0 213.1 633.9" stroke-width="1.3"/>
<path d="M213.1 633.9L225.3 636.4L224.4 642.0M213.1 638.8L224.4 641.2" stroke-width="1.06"/>
<path d="M211.5 655.4C212.7 655.5 216.9 656.4 218.8 655.8C220.7 655.1 221.3 653.3 222.8 651.7C224.3 650.1 226.9 647.0 227.7 646.1" stroke-width="1.42"/>
<path d="M211.5 657.2C213.0 657.2 218.1 657.9 220.4 656.9C222.7 655.9 224.4 652.3 225.3 651.4" stroke-width="1.06"/>
<path d="M227.7 646.1L246.3 620.7" stroke-width="1.3"/>
<path d="M224.4 641.7L227.7 646.1" stroke-width="1.06"/>
<ellipse cx="117.8" cy="627.8" rx="3.6" ry="2" stroke-width="0.9"/>
<ellipse cx="212.3" cy="647.4" rx="4" ry="2.1" stroke-width="0.9"/>
</g>
</svg></div>
</body></html>
